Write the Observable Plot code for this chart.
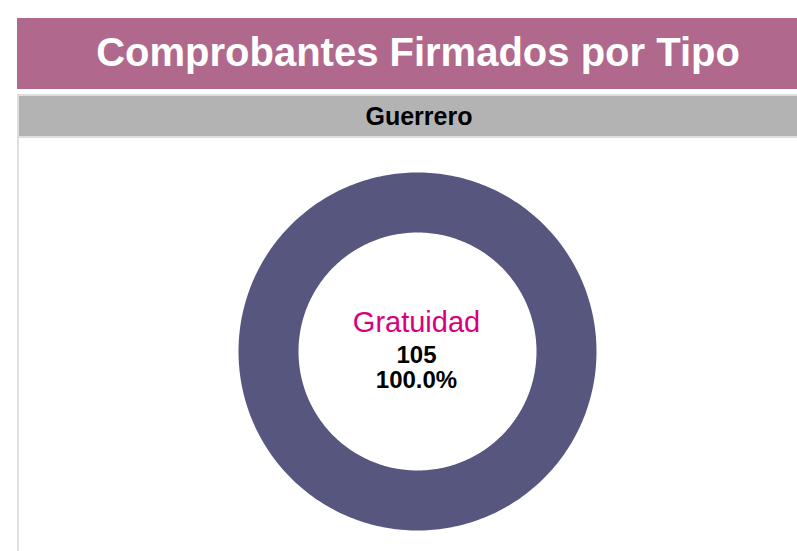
<!DOCTYPE html>
<html>
<head>
<meta charset="utf-8">
<script src="https://cdn.jsdelivr.net/npm/d3@7"></script>
<script src="https://cdn.jsdelivr.net/npm/@observablehq/plot@0.6"></script>
<style>
  html, body { margin: 0; padding: 0; background: #fff; overflow: hidden; }
  body { width: 797px; height: 551px; position: relative; font-family: "Liberation Sans", Arial, sans-serif; }
  #banner { position: absolute; left: 17px; top: 18px; width: 802px; height: 71px; background: #b0688c;
            color: #fff; font-weight: bold; font-size: 40px; text-align: center; line-height: 68px; white-space: nowrap; }
  #state { position: absolute; left: 17px; top: 94px; width: 800px; height: 40px; background: #b3b3b3;
           border: 2px solid #dedede; border-right: none; font-weight: bold; font-size: 25px; text-align: center;
           line-height: 40px; color: #000; }
  #panel { position: absolute; left: 17px; top: 138px; width: 780px; height: 413px; border-left: 2px solid #e0e0e0; }
  #chart { position: absolute; left: 0; top: 0; }
</style>
</head>
<body>
<div id="banner">Comprobantes Firmados por Tipo</div>
<div id="state">Guerrero</div>
<div id="panel"><div id="chart"></div></div>
<script>
const categories = ["Gratuidad"];
const values = [105];
const colors = ["#57567f"];

const total = d3.sum(values);
const pie = d3.pie().sort(null)(values);
const outerR = 1, innerR = 119 / 179;

// Build ring polygon rows for each slice from the pie angles
const rows = [];
pie.forEach((p, i) => {
  const n = 360;
  const a0 = p.startAngle, a1 = p.endAngle;
  for (let k = 0; k <= n; k++) {
    const a = a0 + (a1 - a0) * k / n;
    rows.push({cat: categories[i], x: outerR * Math.sin(a), y: outerR * Math.cos(a)});
  }
  for (let k = n; k >= 0; k--) {
    const a = a0 + (a1 - a0) * k / n;
    rows.push({cat: categories[i], x: innerR * Math.sin(a), y: innerR * Math.cos(a)});
  }
});

const labels = categories.map((c, i) => ({
  cat: c, value: values[i], pct: (values[i] / total * 100).toFixed(1) + "%"
}));

const W = 779, H = 413;
const chart = Plot.plot({
  width: W, height: H,
  marginLeft: 219, marginRight: 202, marginTop: 34, marginBottom: 21,
  x: {domain: [-1, 1], axis: null},
  y: {domain: [-1, 1], axis: null},
  style: {fontFamily: "Liberation Sans, Arial, sans-serif", background: "transparent"},
  marks: [
    Plot.line(rows, {x: "x", y: "y", z: "cat", fill: (d) => colors[categories.indexOf(d.cat)], stroke: "none", curve: "linear"}),
    Plot.text(labels, {x: () => 0, y: () => 0, text: "cat", lineAnchor: "bottom", dx: -1, dy: -20, fontSize: 29, fill: "#d9007e"}),
    Plot.text(labels, {x: () => 0, y: () => 0, text: (d) => String(d.value), lineAnchor: "bottom", dx: -1, dy: 11, fontSize: 24, fontWeight: "bold", fill: "#000"}),
    Plot.text(labels, {x: () => 0, y: () => 0, text: "pct", lineAnchor: "bottom", dx: -1, dy: 36, fontSize: 24, fontWeight: "bold", fill: "#000"})
  ]
});
document.getElementById("chart").appendChild(chart);
</script>
</body>
</html>
